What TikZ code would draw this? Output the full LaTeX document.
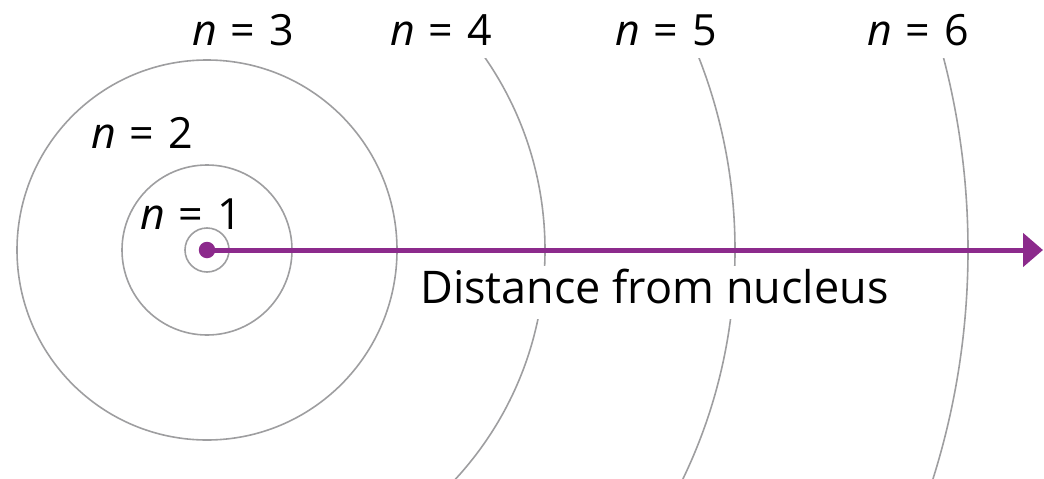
\documentclass[tikz,border=0pt]{standalone}
\usepackage{fontspec}
\setmainfont{Open Sans}
\usetikzlibrary{arrows.meta}
\definecolor{orbitgray}{RGB}{158,158,160}
\definecolor{nucpurple}{RGB}{140,42,140}
\newcommand{\nlab}[1]{\textit{n}\hspace{0.32em}=\hspace{0.32em}#1}
\begin{document}
\begin{tikzpicture}[x=1pt,y=-1pt,
  orbit/.style={draw=orbitgray,line width=1.6pt},
  lbl/.style={anchor=base,inner sep=0pt,font=\fontsize{43}{50}\selectfont},
  axislabel/.style={anchor=base west,fill=white,inner xsep=6pt,inner ysep=0pt,
     text height=37pt,text depth=16pt,font=\fontsize{45}{52}\selectfont}]
\useasboundingbox (0,0) rectangle (1044,479);
\coordinate (c) at (207,250);
% inner orbits
\draw[orbit] (c) circle[radius=22];
\draw[orbit] (c) circle[radius=85];
\draw[orbit] (c) circle[radius=190];
% outer orbits (arcs)
\begin{scope}
  \clip (0,58) rectangle (1044,479);
  \draw[orbit] (c) circle[radius=338];
  \draw[orbit] (c) circle[radius=528];
  \draw[orbit] (c) circle[radius=761];
\end{scope}
% axis label with white background
\node[axislabel] (dist) at (414,303) {Distance from nucleus};
% arrow
\node[circle,fill=nucpurple,inner sep=0pt,minimum size=16.5pt] (nuc) at (c) {};
\coordinate (tip) at (1043,250);
\draw[nucpurple,line width=5pt,-{Triangle[length=20pt,width=33pt]}] (nuc.center) -- (tip);
% labels
\node[lbl] (l1) at (191,229) {\nlab{1}};
\node[lbl] (l2) at (142,148) {\nlab{2}};
\node[lbl] (l3) at (243,45) {\nlab{3}};
\node[lbl] (l4) at (441,45) {\nlab{4}};
\node[lbl] (l5) at (666,45) {\nlab{5}};
\node[lbl] (l6) at (918,45) {\nlab{6}};
\end{tikzpicture}
\end{document}
